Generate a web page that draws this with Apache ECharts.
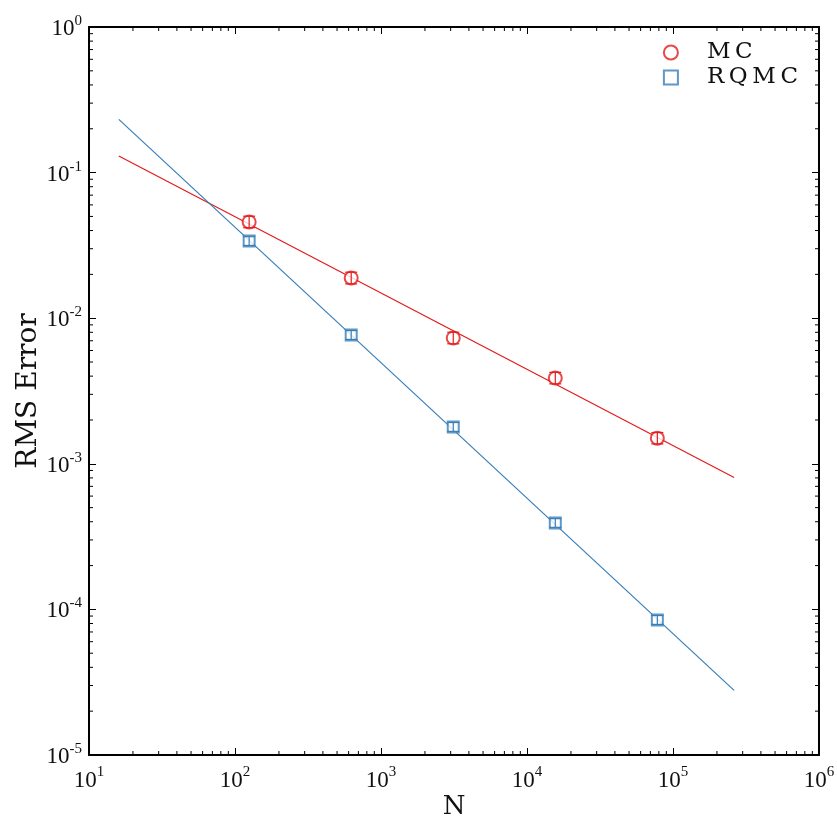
<!DOCTYPE html>
<html>
<head>
<meta charset="utf-8">
<title>RMS Error vs N</title>
<script src="https://cdn.jsdelivr.net/npm/echarts@6/dist/echarts.min.js"></script>
<style>
  html, body { margin: 0; padding: 0; background: #fff; }
  #chart { width: 837px; height: 823px; }
</style>
</head>
<body>
<div id="chart"></div>
<script>
// Sample sizes (powers of 5)
const sampleN = [125, 625, 3125, 15625, 78125];

// Monte Carlo RMS error with lower/upper error-bar bounds
const mcError = [0.0458, 0.0189, 0.00731, 0.00388, 0.00150];
const mcLow   = [0.0418, 0.0172, 0.00667, 0.00354, 0.00137];
const mcHigh  = [0.0502, 0.0207, 0.00801, 0.00425, 0.00164];

// Randomized QMC RMS error with lower/upper error-bar bounds
const rqmcError = [0.0339, 0.00767, 0.00179, 0.000392, 0.0000846];
const rqmcLow   = [0.0316, 0.00715, 0.00167, 0.000366, 0.0000789];
const rqmcHigh  = [0.0363, 0.00822, 0.00192, 0.000420, 0.0000907];

// Fitted power-law lines, evaluated at the two ends of the fit range
const fitN = [16, 262144];
const mcFit = [0.130, 0.000805];
const rqmcFit = [0.232, 0.0000278];

// Axis extents (decades)
const xRange = [10, 1e6];
const yRange = [1e-5, 1];

const RED = '#e41a1c';
const BLUE = '#377eb8';
const FONT = 'Liberation Serif';
const TITLE_FONT = 'DejaVu Serif';

// Minor tick values (2..9 within each decade)
function minorValues(lo, hi) {
  const out = [];
  for (let d = Math.log10(lo); d < Math.log10(hi); d++) {
    for (let k = 2; k <= 9; k++) out.push([k * Math.pow(10, d)]);
  }
  return out;
}
const xMinor = minorValues(xRange[0], xRange[1]);
const yMinor = minorValues(yRange[0], yRange[1]);

function zip(a, b) { return a.map((v, i) => [v, b[i]]); }
function zip3(a, b, c) { return a.map((v, i) => [v, b[i], c[i]]); }

function powLabel(value) {
  const e = Math.round(Math.log10(value));
  return '{b|10}{s|' + e + '}';
}
const labelRich = {
  b: { fontFamily: FONT, fontSize: 23, color: '#111', verticalAlign: 'bottom' },
  s: { fontFamily: FONT, fontSize: 15, color: '#111', verticalAlign: 'top', padding: [0, 0, 12, 0] }
};

// Draws vertical error bars with caps
function errorBarRenderer(color, capHalf) {
  return function (params, api) {
    const x = api.value(0);
    const top = api.coord([x, api.value(2)]);
    const bot = api.coord([x, api.value(1)]);
    const style = { stroke: color, lineWidth: 1.2, fill: null };
    return {
      type: 'group',
      children: [
        { type: 'line', shape: { x1: top[0], y1: top[1], x2: bot[0], y2: bot[1] }, style },
        { type: 'line', shape: { x1: top[0] - capHalf, y1: top[1], x2: top[0] + capHalf, y2: top[1] }, style },
        { type: 'line', shape: { x1: bot[0] - capHalf, y1: bot[1], x2: bot[0] + capHalf, y2: bot[1] }, style }
      ]
    };
  };
}

// Minor tick marks on all four sides of the plot box
function minorTickRenderer(horizontal) {
  return function (params, api) {
    const cs = params.coordSys;
    const len = 4;
    const style = { stroke: '#000', lineWidth: 1 };
    if (horizontal) {
      const p = api.coord([api.value(0), yRange[0]]);
      return {
        type: 'group',
        children: [
          { type: 'line', shape: { x1: p[0], y1: cs.y + cs.height, x2: p[0], y2: cs.y + cs.height - len }, style },
          { type: 'line', shape: { x1: p[0], y1: cs.y, x2: p[0], y2: cs.y + len }, style }
        ]
      };
    }
    const p = api.coord([xRange[0], api.value(0)]);
    return {
      type: 'group',
      children: [
        { type: 'line', shape: { x1: cs.x, y1: p[1], x2: cs.x + len, y2: p[1] }, style },
        { type: 'line', shape: { x1: cs.x + cs.width, y1: p[1], x2: cs.x + cs.width - len, y2: p[1] }, style }
      ]
    };
  };
}

const axisCommon = {
  type: 'log',
  logBase: 10,
  splitLine: { show: false },
  axisLine: { show: true, onZero: false, lineStyle: { color: '#000', width: 2 } },
  axisTick: { show: true, inside: true, length: 7, lineStyle: { color: '#000', width: 1 } },
  minorTick: { show: false }
};

const chart = echarts.init(document.getElementById('chart'), null, { renderer: 'canvas' });

chart.setOption({
  backgroundColor: '#fff',
  animation: false,
  grid: { left: 89, right: 18, top: 27, bottom: 68, containLabel: false, outerBoundsMode: 'none' },
  legend: {
    data: ['MC', 'RQMC'],
    orient: 'vertical',
    right: 34,
    top: 36,
    itemWidth: 14,
    itemHeight: 14,
    itemGap: 2,
    formatter: function (name) { return name.split('').join('\u2009'); },
    textStyle: { fontFamily: TITLE_FONT, fontSize: 23, color: '#111', padding: [0, 0, 0, 24] }
  },
  xAxis: [
    Object.assign({}, axisCommon, {
      min: xRange[0], max: xRange[1], splitNumber: 5,
      name: 'N', nameLocation: 'middle', nameGap: 39, nameMoveOverlap: false,
      nameTextStyle: { fontFamily: TITLE_FONT, fontSize: 26, color: '#111' },
      axisLabel: { formatter: powLabel, rich: labelRich, margin: 10 }
    }),
    Object.assign({}, axisCommon, {
      min: xRange[0], max: xRange[1], splitNumber: 5, position: 'top',
      axisLabel: { show: false }
    })
  ],
  yAxis: [
    Object.assign({}, axisCommon, {
      min: yRange[0], max: yRange[1], splitNumber: 5,
      name: 'RMS Error', nameLocation: 'middle', nameGap: 46, nameMoveOverlap: false,
      nameTextStyle: { fontFamily: TITLE_FONT, fontSize: 28, color: '#111' },
      axisLabel: { formatter: powLabel, rich: labelRich, margin: 7 }
    }),
    Object.assign({}, axisCommon, {
      min: yRange[0], max: yRange[1], splitNumber: 5, position: 'right',
      axisLabel: { show: false }
    })
  ],
  series: [
    {
      name: 'MC fit', type: 'line', data: zip(fitN, mcFit),
      symbol: 'none', lineStyle: { color: RED, width: 1.2 }, z: 3
    },
    {
      name: 'RQMC fit', type: 'line', data: zip(fitN, rqmcFit),
      symbol: 'none', lineStyle: { color: BLUE, width: 1.2 }, z: 3
    },
    {
      name: 'MC', type: 'scatter', data: zip(sampleN, mcError),
      symbol: 'emptyCircle', symbolSize: 13,
      itemStyle: { color: RED, borderColor: RED, borderWidth: 1.3 }, z: 4
    },
    {
      name: 'RQMC', type: 'scatter', data: zip(sampleN, rqmcError),
      symbol: 'emptyRect', symbolSize: 11,
      itemStyle: { color: BLUE, borderColor: BLUE, borderWidth: 1.3 }, z: 4
    },
    {
      name: 'MC bars', type: 'custom', data: zip3(sampleN, mcLow, mcHigh),
      encode: { x: 0, y: [1, 2] },
      renderItem: errorBarRenderer(RED, 6), z: 6
    },
    {
      name: 'RQMC bars', type: 'custom', data: zip3(sampleN, rqmcLow, rqmcHigh),
      encode: { x: 0, y: [1, 2] },
      renderItem: errorBarRenderer(BLUE, 6), z: 6
    },
    {
      name: 'x minor', type: 'custom', data: xMinor,
      encode: { x: 0 }, renderItem: minorTickRenderer(true), silent: true, z: 5
    },
    {
      name: 'y minor', type: 'custom', data: yMinor,
      encode: { y: 0 }, renderItem: minorTickRenderer(false), silent: true, z: 5
    }
  ]
});
</script>
</body>
</html>
